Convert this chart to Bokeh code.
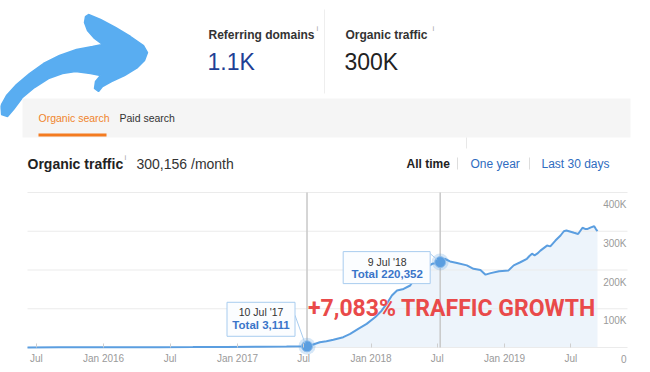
import pandas as pd
from bokeh.plotting import figure
from bokeh.models import (Range1d, FixedTicker, LinearAxis, DatetimeAxis, BoxAnnotation, Label)
from bokeh.embed import file_html
from bokeh.resources import INLINE

FONT = "Liberation Sans"

# ---------------- data ----------------
referring_domains_title = "Referring domains"
referring_domains_value = "1.1K"
organic_traffic_title = "Organic traffic"
organic_traffic_value = "300K"
monthly_traffic = 300156
tab_names = ["Organic search", "Paid search"]
period_names = ["All time", "One year", "Last 30 days"]

dates = ["2015-06-07", "2015-09-01", "2015-12-01", "2016-03-01", "2016-06-01",
         "2016-09-01", "2016-12-01", "2017-03-01", "2017-05-15", "2017-07-10",
         "2017-07-25", "2017-08-14", "2017-09-01", "2017-09-20", "2017-10-17",
         "2017-11-05", "2017-11-27", "2017-12-20", "2018-01-12", "2018-01-30",
         "2018-02-13", "2018-02-27", "2018-03-13", "2018-03-31", "2018-04-18",
         "2018-04-27", "2018-05-16", "2018-06-03", "2018-06-17", "2018-07-01",
         "2018-07-09", "2018-07-21", "2018-08-05", "2018-08-24", "2018-09-20",
         "2018-10-08", "2018-10-27", "2018-11-10", "2018-11-24", "2018-12-17",
         "2019-01-12", "2019-01-26", "2019-02-13", "2019-03-03", "2019-03-10",
         "2019-03-17", "2019-03-24", "2019-03-31", "2019-04-09", "2019-04-27",
         "2019-05-06", "2019-05-20", "2019-06-03", "2019-06-12", "2019-06-19",
         "2019-06-26", "2019-07-10", "2019-07-21", "2019-08-02", "2019-08-09",
         "2019-08-16", "2019-08-25", "2019-09-03", "2019-09-08", "2019-09-12"]
traffic = [300, 400, 500, 600, 800,
           1000, 1300, 1800, 2400, 3111,
           7000, 13700, 16000, 20000, 26600,
           35000, 48000, 61000, 78000, 95000,
           113000, 134000, 147000, 151000, 160000,
           173000, 190000, 207000, 216000, 218000,
           220352, 229000, 222000, 218000, 212000,
           203000, 200000, 188000, 192000, 197000,
           199000, 212000, 220000, 229000, 236000,
           242000, 238000, 242000, 250000, 263000,
           261000, 276000, 289000, 300000, 302000,
           300000, 296000, 293000, 309000, 306000,
           306000, 310000, 313000, 305000, 300156]

x_tick_dates = ["2015-07-01", "2016-01-01", "2016-07-01", "2017-01-01", "2017-07-01",
                "2018-01-01", "2018-07-01", "2019-01-01", "2019-07-01"]
x_tick_labels = ["Jul", "Jan 2016", "Jul", "Jan 2017", "Jul", "Jan 2018", "Jul", "Jan 2019", "Jul"]
y_ticks = [0, 100000, 200000, 300000, 400000]
y_tick_labels = ["0", "100K", "200K", "300K", "400K"]

highlight_dates = ["2017-07-10", "2018-07-09"]
highlight_values = [3111, 220352]
highlight_labels = ["10 Jul '17", "9 Jul '18"]


def ms(s):
    return (pd.Timestamp(s) - pd.Timestamp("1970-01-01")).total_seconds() * 1000.0


# ---------------- geometry ----------------
W, H = 650, 372
CH_L, CH_R, CH_T, CH_B = 27, 627, 192, 347          # chart area inside the page (px)
X0, X1 = ms("2015-06-07"), ms("2019-12-03")
Y_MAX = 400000
MS_PX = (X1 - X0) / (CH_R - CH_L)
V_PX = Y_MAX / (CH_B - CH_T)

p = figure(width=W, height=H, x_axis_type="datetime",
           x_range=Range1d(X0 - CH_L * MS_PX, X1 + (W - CH_R) * MS_PX),
           y_range=Range1d(-(H - CH_B) * V_PX, Y_MAX + CH_T * V_PX),
           x_axis_location=None, y_axis_location=None,
           toolbar_location=None, output_backend="svg", min_border=0)
p.outline_line_color = None
p.background_fill_color = "white"
p.border_fill_color = "white"
p.grid.visible = False

# pixel ranges for the page chrome (header, tabs)
p.extra_x_ranges = {"px": Range1d(0, W)}
p.extra_y_ranges = {"px": Range1d(H, 0)}
PX = dict(x_range_name="px", y_range_name="px")

arrow_x = [88, 100, 115, 130, 143, 147, 144, 137, 124, 111, 102, 98, 94, 95, 100, 90, 75, 62, 48,
           34, 22, 13, 7, 1, 0, 6, 16, 29, 43, 59, 76, 92, 102, 94, 87, 84, 85]
arrow_y = [14, 19, 27, 36, 45, 52, 60, 67, 75, 81, 86, 91, 88, 81, 75, 73, 71, 73, 78,
           87, 97, 109, 116, 114, 106, 95, 84, 73, 63, 55, 49, 46, 44, 38, 30, 22, 16]
p.patch(arrow_x, arrow_y, fill_color="#59adf1", line_color="#59adf1", line_width=1.5, **PX)

p.segment(x0=[324], y0=[9], x1=[324], y1=[93], line_color="#eeeeee", line_width=1, **PX)
p.quad(left=[22], right=[630], top=[98], bottom=[137], fill_color="#f5f5f5", line_color=None, **PX)
p.quad(left=[38], right=[106], top=[133], bottom=[136], fill_color="#f47b20", line_color=None, **PX)
p.segment(x0=[466], y0=[137], x1=[466], y1=[148], line_color="#e8e8e8", line_width=1, **PX)
p.segment(x0=[457, 529], y0=[157, 157], x1=[457, 529], y1=[169, 169], line_color="#dddddd",
          line_width=1, **PX)


def hl(x, y, text, size, color, bold=False):
    p.add_layout(Label(x=x, y=y, text=text, text_font=FONT, text_font_size=size,
                       text_color=color, text_font_style="bold" if bold else "normal",
                       text_baseline="middle", text_align="left", **PX))


hl(208, 34, referring_domains_title, "12px", "#333333", bold=True)
hl(316, 28, "i", "8px", "#aaaaaa")
hl(207, 61, referring_domains_value, "23px", "#1f3f95")
hl(345, 34, organic_traffic_title, "12px", "#333333", bold=True)
hl(432, 28, "i", "8px", "#aaaaaa")
hl(344, 61, organic_traffic_value, "23px", "#222222")

hl(38, 117, tab_names[0], "10.5px", "#f0842c")
hl(119, 117, tab_names[1], "10.5px", "#333333")

hl(27, 163, organic_traffic_title, "14px", "#222222", bold=True)
hl(124, 157, "i", "8px", "#aaaaaa")
hl(136, 163, f"{monthly_traffic:,} /month", "14px", "#333333")
hl(406, 163, period_names[0], "12px", "#222222", bold=True)
hl(470, 163, period_names[1], "12px", "#2f6cc0")
hl(541, 163, period_names[2], "12px", "#2f6cc0")

# ---------------- chart ----------------
dts = pd.to_datetime(dates)
hdts = pd.to_datetime(highlight_dates)
n = len(y_ticks)

p.varea(x=dts, y1=0, y2=traffic, fill_color="#edf4fb", fill_alpha=1.0)
# horizontal gridlines at the y ticks, across the chart area only
p.segment(x0=[X0] * n, y0=y_ticks, x1=[X1] * n, y1=y_ticks, line_color="#ebebeb", line_width=1)
p.segment(x0=hdts, y0=[0, 0], x1=hdts, y1=[Y_MAX, Y_MAX], line_color="#c8c8c8", line_width=1.5)
p.line(dts, traffic, line_color="#5b9ee0", line_width=2)
p.scatter(hdts, highlight_values, size=17, fill_color="#5b9ee0", fill_alpha=0.25, line_color=None)
p.scatter(hdts, highlight_values, size=11, fill_color="#5b9ee0", line_color="#8fbdea", line_width=1)

xt = [ms(d) for d in x_tick_dates]
xax = DatetimeAxis(fixed_location=0, bounds=(X0, X1), ticker=FixedTicker(ticks=xt),
                   major_label_overrides={t: l for t, l in zip(xt, x_tick_labels)},
                   axis_line_color=None, major_tick_in=4, major_tick_out=0,
                   major_tick_line_color="#cfcfcf", minor_tick_line_color=None,
                   major_label_text_font=FONT, major_label_text_font_size="10px",
                   major_label_text_color="#9a9a9a", major_label_standoff=5)
p.add_layout(xax, "below")

# y labels sit just below their gridlines, right-aligned at the chart's right edge
shift = 12 * V_PX
p.extra_y_ranges["lab"] = Range1d(p.y_range.start + shift, p.y_range.end + shift)
yax = LinearAxis(y_range_name="lab", ticker=FixedTicker(ticks=y_ticks), bounds=(0, Y_MAX),
                 fixed_location=X1, axis_line_color=None, major_tick_line_color=None,
                 minor_tick_line_color=None, major_tick_in=0, major_tick_out=0,
                 major_label_standoff=1, major_label_text_font=FONT,
                 major_label_text_font_size="10px", major_label_text_color="#9a9a9a",
                 major_label_overrides={v: l for v, l in zip(y_ticks, y_tick_labels)})
p.add_layout(yax, "left")

# tooltip callouts (pixel offsets from the highlighted point)
box_specs = [
    dict(l=-80, r=-12, t=44, b=10, cx=-46, dy=34, ty=21, tail=(-12, 31, -2, 3)),
    dict(l=-97, r=-10, t=10.5, b=-21.5, cx=-53, dy=0.5, ty=-12, tail=(-10, 8.5, -3, 2.5)),
]
for hx, hv, lab, s in zip(highlight_dates, highlight_values, highlight_labels, box_specs):
    px, pv = ms(hx), hv
    p.add_layout(BoxAnnotation(left=px + s["l"] * MS_PX, right=px + s["r"] * MS_PX,
                               bottom=pv + s["b"] * V_PX, top=pv + s["t"] * V_PX,
                               fill_color="#fbfdff", fill_alpha=1.0,
                               line_color="#a8ccef", line_width=1, line_alpha=1.0))
    tx0, ty0, tx1, ty1 = s["tail"]
    p.segment(x0=[px + tx0 * MS_PX], y0=[pv + ty0 * V_PX], x1=[px + tx1 * MS_PX],
              y1=[pv + ty1 * V_PX], line_color="#a8ccef", line_width=1)
    p.add_layout(Label(x=px + s["cx"] * MS_PX, y=pv + s["dy"] * V_PX, text=lab, text_font=FONT,
                       text_font_size="10.5px", text_color="#333333", text_align="center",
                       text_baseline="middle"))
    p.add_layout(Label(x=px + s["cx"] * MS_PX, y=pv + s["ty"] * V_PX, text=f"Total {hv:,}",
                       text_font=FONT, text_font_size="11.5px", text_font_style="bold",
                       text_color="#3a75c9", text_align="center", text_baseline="middle"))

growth = round(highlight_values[1] / highlight_values[0] * 100)
p.add_layout(Label(x=ms(highlight_dates[0]) + 1 * MS_PX, y=highlight_values[0] + 38 * V_PX,
                   text=f"+{growth:,}% TRAFFIC GROWTH", text_font="Roboto",
                   text_font_size="23px", text_font_style="bold", text_color="#e94a4a",
                   text_align="left", text_baseline="middle"))

open("out.html", "w").write(file_html(p, INLINE))
